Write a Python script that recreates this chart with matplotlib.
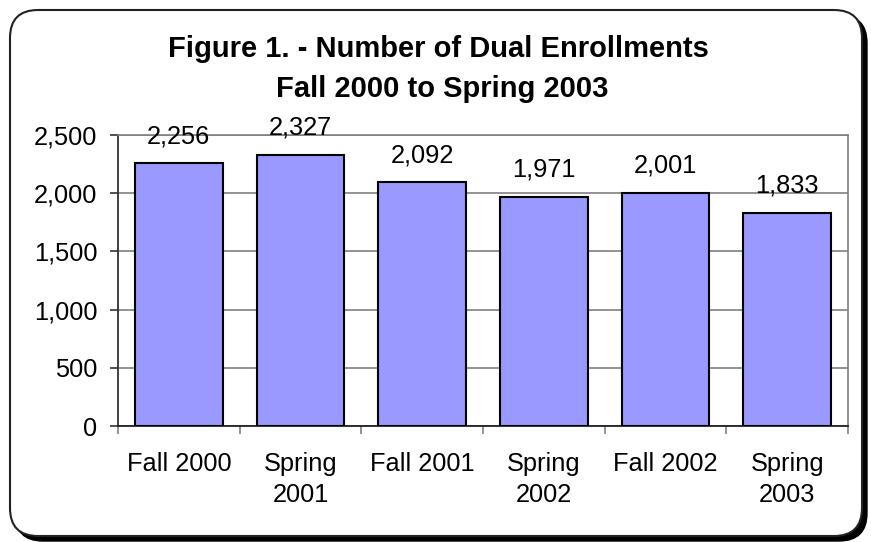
import matplotlib
matplotlib.use("Agg")
import matplotlib.pyplot as plt
from matplotlib.patches import FancyBboxPatch
from matplotlib.ticker import FuncFormatter, FixedLocator
import numpy as np

categories = ["Fall 2000", "Spring\n2001", "Fall 2001", "Spring\n2002", "Fall 2002", "Spring\n2003"]
values = [2256, 2327, 2092, 1971, 2001, 1833]
title_lines = ["Figure 1. - Number of Dual Enrollments", "Fall 2000 to Spring 2003"]

plt.rcParams['font.family'] = ['Liberation Sans', 'DejaVu Sans']

W, H = 871, 542
fig = plt.figure(figsize=(W / 100, H / 100), dpi=100)
fig.patch.set_facecolor('white')

def fx(px):
    return px / W

def fy(py):
    return 1 - py / H

# rounded frame with shadow
x0, y0, x1, y1 = 10, 10, 862, 536
r = 28
shadow = FancyBboxPatch((fx(x0 + 5), fy(y1 + 5)), fx(x1 - x0), (y1 - y0) / H,
                        boxstyle=f"round,pad=0,rounding_size={r / W}",
                        transform=fig.transFigure, facecolor='black', edgecolor='black',
                        lw=1, zorder=0, mutation_aspect=W / H)
fig.patches.append(shadow)
frame = FancyBboxPatch((fx(x0), fy(y1)), fx(x1 - x0), (y1 - y0) / H,
                       boxstyle=f"round,pad=0,rounding_size={r / W}",
                       transform=fig.transFigure, facecolor='white', edgecolor='#222222',
                       lw=1.5, zorder=1, mutation_aspect=W / H)
fig.patches.append(frame)

left, right, top, bottom = 118, 848, 135, 426
ax = fig.add_axes([fx(left), fy(bottom), fx(right - left), (bottom - top) / H])
ax.set_zorder(2)
ax.patch.set_alpha(0)

FS = 18.3
x = np.arange(len(categories))
ax.bar(x, values, width=0.72, color='#9999FF', edgecolor='black', linewidth=1.5, zorder=3)
for xi, v in zip(x, values):
    ax.annotate(f"{v:,}", (xi, v), xytext=(0, 11), textcoords='offset points',
                ha='center', va='bottom', fontsize=FS, zorder=4)

ax.set_xlim(-0.5, len(categories) - 0.5)
ax.set_ylim(0, 2500)
ax.yaxis.set_major_locator(FixedLocator([0, 500, 1000, 1500, 2000, 2500]))
ax.yaxis.set_major_formatter(FuncFormatter(lambda v, p: f"{int(v):,}"))
ax.grid(axis='y', color='#808080', linewidth=1.2, zorder=0)
ax.set_axisbelow(True)

ax.set_xticks(x)
ax.set_xticklabels(categories, fontsize=FS, linespacing=1.35)
ax.xaxis.set_minor_locator(FixedLocator(np.arange(-0.5, len(categories), 1.0)))
ax.tick_params(axis='x', which='major', length=0, pad=19)
ax.tick_params(axis='x', which='minor', length=6, color='#808080', width=1.2)
ax.tick_params(axis='y', which='major', length=6, color='#333333', width=1.2, labelsize=FS, pad=9)

ax.spines['left'].set_color('#333333')
ax.spines['left'].set_linewidth(1.3)
ax.spines['bottom'].set_color('#222222')
ax.spines['bottom'].set_linewidth(1.3)
ax.spines['top'].set_color('#808080')
ax.spines['top'].set_linewidth(1.2)
ax.spines['right'].set_color('#808080')
ax.spines['right'].set_linewidth(1.2)

fig.text(fx(438), fy(57), title_lines[0], ha='center', va='baseline', fontsize=21, fontweight='bold', zorder=5)
fig.text(fx(442), fy(97), title_lines[1], ha='center', va='baseline', fontsize=21, fontweight='bold', zorder=5)

fig.savefig("out.png", dpi=100, facecolor='white')
